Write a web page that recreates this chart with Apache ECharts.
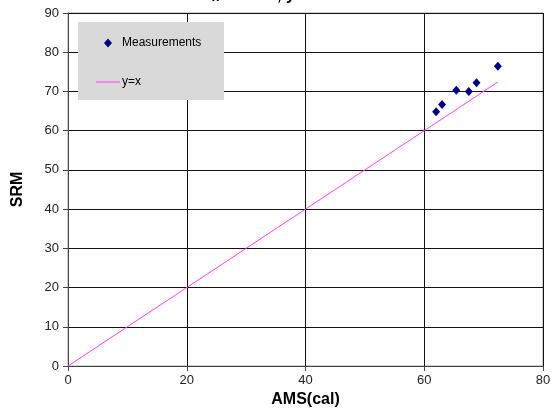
<!DOCTYPE html>
<html>
<head>
<meta charset="utf-8">
<script src="https://cdn.jsdelivr.net/npm/echarts@6/dist/echarts.min.js"></script>
<style>
  html, body { margin: 0; padding: 0; background: #fff; }
  #main { width: 555px; height: 417px; }
</style>
</head>
<body>
<div id="main"></div>
<script>
// values
const amsCal = [62.0, 63.0, 65.4, 67.5, 68.8, 72.4];
const srm = [64.8, 66.7, 70.3, 70.0, 72.2, 76.4];
const lineX = [0, 72.4];   // y=x reference line ends
const xTicks = [0, 20, 40, 60, 80];
const yTicks = [0, 10, 20, 30, 40, 50, 60, 70, 80, 90];

const measurements = amsCal.map((v, i) => [v, srm[i]]);
const identity = lineX.map(v => [v, v]);

const chart = echarts.init(document.getElementById('main'), null, { renderer: 'canvas' });

const axisText = { color: '#222', fontFamily: 'Liberation Sans, Arial', fontSize: 13 };
const legendText = { color: '#000', fontSize: 12, fontFamily: 'Liberation Sans, Arial' };

const option = {
  animation: false,
  textStyle: { fontFamily: 'Liberation Sans, Arial' },
  graphic: [
    // top of the title is cut off in the original, only the bottom bits show
    { type: 'text', left: 212, top: -9, style: { text: 'x', font: 'bold 13px Liberation Sans', fill: '#000' } },
    { type: 'text', left: 277, top: -12, style: { text: ', y', font: 'bold 16px Liberation Sans', fill: '#000' } },
    // legend box
    { type: 'rect', shape: { x: 78, y: 22, width: 146, height: 78 }, style: { fill: '#d9d9d9' }, z: 5 }
  ],
  grid: {
    left: 68, right: 12, top: 13, bottom: 51,
    show: true, borderColor: '#a0a0a0', borderWidth: 1
  },
  legend: [
    {
      left: 104, top: 37, padding: 0, z: 10,
      itemWidth: 8, itemHeight: 9, itemGap: 0,
      textStyle: Object.assign({ padding: [0, 0, 0, 5] }, legendText),
      data: [{ name: 'Measurements', icon: 'diamond' }]
    },
    {
      left: 96, top: 76, padding: 0, z: 10,
      itemWidth: 24, itemHeight: 1, itemGap: 0,
      textStyle: Object.assign({ padding: [0, 0, 0, -3] }, legendText),
      data: [{ name: 'y=x', icon: 'rect', itemStyle: { color: '#ff40ff' } }]
    }
  ],
  xAxis: {
    type: 'value',
    min: 0, max: 80, interval: 20,
    name: 'AMS(cal)', nameLocation: 'middle', nameGap: 26,
    nameTextStyle: { fontWeight: 'bold', fontSize: 16, color: '#000' },
    axisLine: { show: true, lineStyle: { color: '#444' } },
    axisTick: { show: true, length: 5, lineStyle: { color: '#444' } },
    axisLabel: Object.assign({ margin: 8, formatter: v => xTicks.includes(v) ? String(v) : '' }, axisText),
    splitLine: { show: true, lineStyle: { color: '#111', width: 1 } }
  },
  yAxis: {
    type: 'value',
    min: 0, max: 90, interval: 10,
    name: 'SRM', nameLocation: 'middle', nameGap: 42,
    nameTextStyle: { fontWeight: 'bold', fontSize: 16, color: '#000' },
    axisLine: { show: true, lineStyle: { color: '#444' } },
    axisTick: { show: true, length: 5, lineStyle: { color: '#444' } },
    axisLabel: Object.assign({ margin: 9, formatter: v => yTicks.includes(v) ? String(v) : '' }, axisText),
    splitLine: { show: true, lineStyle: { color: '#111', width: 1 } }
  },
  series: [
    {
      name: 'Measurements',
      type: 'scatter',
      symbol: 'diamond',
      symbolSize: [8, 9],
      itemStyle: { color: '#000080', opacity: 1 },
      data: measurements,
      z: 3
    },
    {
      name: 'y=x',
      type: 'line',
      symbol: 'none',
      lineStyle: { color: '#ff40ff', width: 1 },
      itemStyle: { color: '#ff40ff' },
      data: identity,
      z: 2
    }
  ]
};

chart.setOption(option);
</script>
</body>
</html>
